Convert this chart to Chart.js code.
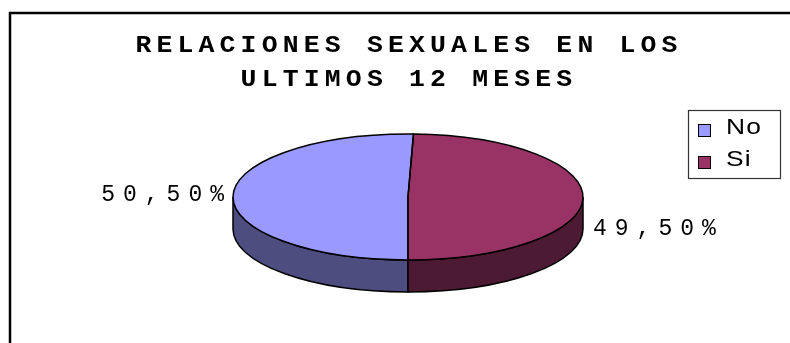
<html lang="es">
<head>
<meta charset="UTF-8">
<title>Relaciones sexuales</title>
<script src="https://cdn.jsdelivr.net/npm/chart.js@4.4.1/dist/chart.umd.min.js"></script>
<style>
  body { margin: 0; background: #fff; }
  #wrap { position: relative; width: 790px; height: 343px; }
</style>
</head>
<body>
<div id="wrap"><canvas id="pie"></canvas></div>
<script>
// Datos
var categorias = ['No', 'Si'];
var porcentajes = [50.5, 49.5];
var colores = ['#9999FF', '#993366'];
var coloresLado = ['#4D4D80', '#4D1A33'];
var titulo = ['RELACIONES SEXUALES EN LOS', 'ULTIMOS 12 MESES'];

// Geometria de la vista 3D (elipse en pantalla)
var vista = { cx: 408, cy: 197, rx: 175, ry: 63, fondo: 32 };
var estiroTitulo = 1.15;

function transformar(ctx, arc) {
    var R = arc.outerRadius;
    ctx.translate(vista.cx, vista.cy);
    ctx.scale(vista.rx / R, vista.ry / R);
    ctx.translate(-arc.x, -arc.y);
}

function etiqueta(v) {
    return v.toFixed(2).replace('.', ',') + '%';
}

// texto ancho, como en el original
function textoAncho(ctx, t, x, y, s) {
    ctx.save();
    ctx.translate(x, y);
    ctx.scale(s, 1);
    ctx.fillText(t, 0, 0);
    ctx.restore();
}

var pie3d = {
    id: 'pie3d',
    beforeDraw: function (chart) {
        var ctx = chart.ctx;
        ctx.save();
        ctx.strokeStyle = '#000';
        ctx.lineWidth = 2.5;
        ctx.strokeRect(10, 13, 1000, 500);
        ctx.restore();
        // el titulo se dibuja estirado en horizontal
        var t = chart.titleBlock;
        var cx = (t.left + t.right) / 2;
        ctx.save();
        ctx.translate(cx, 0);
        ctx.scale(estiroTitulo, 1);
        ctx.translate(-cx, 0);
        ctx.letterSpacing = '4.5px';
    },
    beforeDatasetsDraw: function (chart) {
        var ctx = chart.ctx;
        ctx.restore();
        var arcs = chart.getDatasetMeta(0).data;
        // paredes laterales (solo la mitad frontal)
        arcs.forEach(function (arc, i) {
            var s = arc.startAngle, e = arc.endAngle;
            [-2 * Math.PI, 0, 2 * Math.PI].forEach(function (k) {
                var a1 = Math.max(s + k, 0), a2 = Math.min(e + k, Math.PI);
                if (a2 <= a1) return;
                var R = arc.outerRadius;
                var d = vista.fondo * R / vista.ry;
                ctx.save();
                transformar(ctx, arc);
                ctx.beginPath();
                ctx.arc(arc.x, arc.y, R, a1, a2);
                ctx.lineTo(arc.x + R * Math.cos(a2), arc.y + d + R * Math.sin(a2));
                ctx.arc(arc.x, arc.y + d, R, a2, a1, true);
                ctx.closePath();
                ctx.restore();
                ctx.fillStyle = coloresLado[i];
                ctx.fill();
                ctx.strokeStyle = '#000';
                ctx.lineWidth = 1.5;
                ctx.stroke();
            });
        });
        ctx.save();
        transformar(ctx, arcs[0]);
    },
    afterDatasetsDraw: function (chart) {
        var ctx = chart.ctx;
        ctx.restore();
        var arcs = chart.getDatasetMeta(0).data;
        arcs.forEach(function (arc) {
            ctx.save();
            transformar(ctx, arc);
            ctx.beginPath();
            ctx.moveTo(arc.x, arc.y);
            ctx.arc(arc.x, arc.y, arc.outerRadius, arc.startAngle, arc.endAngle);
            ctx.closePath();
            ctx.restore();
            ctx.strokeStyle = '#000';
            ctx.lineWidth = 1.5;
            ctx.stroke();
        });
        // etiquetas de datos
        ctx.save();
        ctx.font = '23px "Liberation Mono"';
        ctx.letterSpacing = '8px';
        ctx.fillStyle = '#000';
        ctx.textBaseline = 'middle';
        arcs.forEach(function (arc, i) {
            var m = (arc.startAngle + arc.endAngle) / 2;
            var px = vista.cx + vista.rx * Math.cos(m);
            var py = vista.cy + vista.ry * Math.sin(m);
            if (Math.cos(m) < 0) {
                ctx.textAlign = 'right';
                textoAncho(ctx, etiqueta(porcentajes[i]), px - 1, py - 1, 1.0);
            } else {
                ctx.textAlign = 'left';
                textoAncho(ctx, etiqueta(porcentajes[i]), px + 10, py + vista.fondo - 1, 1.0);
            }
        });
        ctx.restore();
    },
    afterDraw: function (chart) {
        var ctx = chart.ctx;
        ctx.save();
        // leyenda
        ctx.fillStyle = '#fff';
        ctx.fillRect(688, 110, 92, 68);
        ctx.strokeStyle = '#333';
        ctx.lineWidth = 1.2;
        ctx.strokeRect(688.5, 110.5, 92, 68);
        ctx.font = '22px "Liberation Sans"';
        ctx.letterSpacing = '1px';
        ctx.textBaseline = 'alphabetic';
        ctx.textAlign = 'left';
        categorias.forEach(function (c, i) {
            var y = 124 + i * 32;
            ctx.fillStyle = colores[i];
            ctx.fillRect(698, y, 12, 12);
            ctx.strokeStyle = '#000';
            ctx.lineWidth = 1;
            ctx.strokeRect(698.5, y + 0.5, 12, 12);
            ctx.fillStyle = '#000';
            textoAncho(ctx, c, 726, y + 10, 1.2);
        });
        ctx.restore();
    }
};

var ctx = document.getElementById('pie').getContext('2d');
var chart = new Chart(ctx, {
    type: 'pie',
    data: {
        labels: categorias,
        datasets: [{
            data: porcentajes,
            backgroundColor: colores,
            borderWidth: 0
        }]
    },
    options: {
        responsive: true,
        maintainAspectRatio: false,
        animation: false,
        rotation: 180,
        layout: { padding: { left: 28, top: 0, right: 0, bottom: 0 } },
        events: [],
        plugins: {
            legend: { display: false },
            tooltip: { enabled: false },
            title: {
                display: true,
                text: titulo,
                color: '#000',
                font: { family: '"Liberation Mono"', size: 23, weight: 'bold', lineHeight: 1.48 },
                padding: { top: 29, bottom: 0 }
            }
        }
    },
    plugins: [pie3d]
});
</script>
</body>
</html>
